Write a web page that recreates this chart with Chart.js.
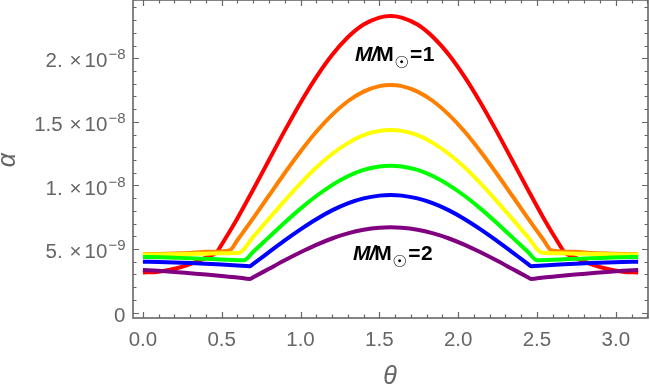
<!DOCTYPE html>
<html><head><meta charset="utf-8">
<script src="https://cdn.jsdelivr.net/npm/chart.js@4.4.1/dist/chart.umd.min.js"></script>
<style>html,body{margin:0;padding:0;background:#fff;}#wrap{width:650px;height:390px;position:relative;}</style>
</head><body><div id="wrap"><canvas id="c" width="650" height="390"></canvas></div>
<script>
// θ samples (rad) and α values (units of 1e-9)
const thetaRed    = [0,0.1,0.2,0.3,0.4,0.47,0.5,0.6,0.7,0.8,0.9,1.0,1.1,1.2,1.3,1.4,1.5,1.571,1.642,1.742,1.842,1.942,2.042,2.142,2.242,2.342,2.442,2.542,2.642,2.672,2.742,2.842,2.942,3.042,3.142];
const alphaRed    = [3.15,3.22,3.45,3.82,4.33,4.78,5.36,7.43,9.68,12.0,14.31,16.51,18.52,20.26,21.65,22.65,23.2,23.32,23.2,22.65,21.65,20.26,18.52,16.51,14.31,12.0,9.68,7.43,5.36,4.78,4.33,3.82,3.45,3.22,3.15];
const thetaOrange = [0,0.1,0.2,0.3,0.4,0.55,0.6,0.7,0.8,0.9,1.0,1.1,1.2,1.3,1.4,1.5,1.571,1.642,1.742,1.842,1.942,2.042,2.142,2.242,2.342,2.442,2.542,2.592,2.742,2.842,2.942,3.042,3.142];
const alphaOrange = [4.6,4.62,4.65,4.7,4.78,4.89,5.71,7.43,9.21,10.98,12.67,14.22,15.55,16.62,17.38,17.81,17.9,17.81,17.38,16.62,15.55,14.22,12.67,10.98,9.21,7.43,5.71,4.89,4.78,4.7,4.65,4.62,4.6];
const thetaYellow = [0,0.1,0.2,0.3,0.4,0.5,0.61,0.7,0.8,0.9,1.0,1.1,1.2,1.3,1.4,1.5,1.571,1.642,1.742,1.842,1.942,2.042,2.142,2.242,2.342,2.442,2.532,2.642,2.742,2.842,2.942,3.042,3.142];
const alphaYellow = [4.58,4.58,4.6,4.62,4.64,4.67,4.71,5.96,7.39,8.81,10.17,11.41,12.47,13.33,13.95,14.29,14.36,14.29,13.95,13.33,12.47,11.41,10.17,8.81,7.39,5.96,4.71,4.67,4.64,4.62,4.6,4.58,4.58];
const thetaGreen  = [0,0.1,0.2,0.3,0.4,0.5,0.64,0.7,0.8,0.9,1.0,1.1,1.2,1.3,1.4,1.5,1.571,1.642,1.742,1.842,1.942,2.042,2.142,2.242,2.342,2.442,2.502,2.642,2.742,2.842,2.942,3.042,3.142];
const alphaGreen  = [4.38,4.36,4.32,4.28,4.23,4.18,4.12,4.79,5.94,7.09,8.18,9.17,10.03,10.72,11.22,11.49,11.55,11.49,11.22,10.72,10.03,9.17,8.18,7.09,5.94,4.79,4.12,4.18,4.23,4.28,4.32,4.36,4.38];
const thetaBlue   = [0,0.1,0.2,0.3,0.4,0.5,0.6,0.679,0.7,0.8,0.9,1.0,1.1,1.2,1.3,1.4,1.5,1.571,1.642,1.742,1.842,1.942,2.042,2.142,2.242,2.342,2.442,2.463,2.542,2.642,2.742,2.842,2.942,3.042,3.142];
const alphaBlue   = [4.01,3.99,3.95,3.9,3.84,3.78,3.71,3.65,3.84,4.76,5.68,6.55,7.35,8.04,8.59,8.98,9.2,9.25,9.2,8.98,8.59,8.04,7.35,6.55,5.68,4.76,3.84,3.65,3.71,3.78,3.84,3.9,3.95,3.99,4.01];
const thetaPurple = [0,0.1,0.2,0.3,0.4,0.5,0.6,0.68,0.7,0.8,0.9,1.0,1.1,1.2,1.3,1.4,1.5,1.571,1.642,1.742,1.842,1.942,2.042,2.142,2.242,2.342,2.442,2.462,2.542,2.642,2.742,2.842,2.942,3.042,3.142];
const alphaPurple = [3.36,3.29,3.2,3.1,3.0,2.89,2.77,2.65,2.78,3.45,4.12,4.75,5.33,5.83,6.23,6.52,6.68,6.71,6.68,6.52,6.23,5.83,5.33,4.75,4.12,3.45,2.78,2.65,2.77,2.89,3.0,3.1,3.2,3.29,3.36];

const xMajorTicks = [0, 0.5, 1.0, 1.5, 2.0, 2.5, 3.0];
const xTickLabels = ["0.0","0.5","1.0","1.5","2.0","2.5","3.0"];
const yMajorTicks = [0, 5, 10, 15, 20];           // units of 1e-9
const yTickMantissas = ["0","5.","1.","1.5","2."];
const yTickExponents = ["","\u22129","\u22128","\u22128","\u22128"];
const xAxisTitle = "\u03b8";
const yAxisTitle = "\u03b1";
const curveLabelTop = ["M","/","M","\u2609","=","1"];
const curveLabelBottom = ["M","/","M","\u2609","=","2"];

const GRAY = '#666666';
const SANS = '"Liberation Sans", Arial, sans-serif';
const TICKFONT = '20.5px ' + SANS;

function pts(t, a){ return t.map((v,i)=>({x:v, y:a[i]})); }
function ds(label, t, a, color, order){
  return {label, data: pts(t,a), borderColor: color, backgroundColor: color, borderWidth: 4,
          pointRadius: 0, cubicInterpolationMode: 'monotone', fill: false, order,
          borderJoinStyle:'round', borderCapStyle:'butt'};
}

function drawMassLabel(ctx, parts, xLeft, base){
  ctx.fillStyle = '#000';
  ctx.textAlign = 'left'; ctx.textBaseline = 'alphabetic';
  let x = xLeft;
  ctx.font = 'italic bold 21px ' + SANS; ctx.fillText(parts[0], x, base); x += ctx.measureText(parts[0]).width - 1;
  ctx.font = 'italic bold 21px ' + SANS; ctx.fillText(parts[1], x, base); x += ctx.measureText(parts[1]).width - 1;
  ctx.font = 'bold 21px ' + SANS; ctx.fillText(parts[2], x, base); x += ctx.measureText(parts[2]).width + 0.5;
  ctx.font = 'bold 16.5px "DejaVu Sans", sans-serif'; ctx.fillText(parts[3], x, base + 7.5); x += ctx.measureText(parts[3]).width + 1;
  ctx.font = 'bold 21px ' + SANS; ctx.fillText(parts[4], x, base); x += ctx.measureText(parts[4]).width + 0.5;
  ctx.fillText(parts[5], x, base);
}

const framePlugin = {
  id: 'mmaFrame',
  afterDatasetsDraw(chart){
    const {ctx, chartArea:a, scales:{x, y}} = chart;
    ctx.save();
    ctx.strokeStyle = GRAY; ctx.lineWidth = 1.6;
    ctx.strokeRect(a.left, a.top, a.right - a.left, a.bottom - a.top);
    ctx.lineWidth = 1.2;
    ctx.beginPath();
    for (let k = 0; k <= 32; k++){
      const v = k / 10; if (v > x.max) break;
      const px = Math.round(x.getPixelForValue(v)) + 0.5;
      const len = (k % 5 === 0) ? 6 : 3.5;
      ctx.moveTo(px, a.bottom); ctx.lineTo(px, a.bottom - len);
      ctx.moveTo(px, a.top); ctx.lineTo(px, a.top + len);
    }
    for (let k = 0; k <= 24; k++){
      const py = Math.round(y.getPixelForValue(k)) + 0.5;
      const len = (k % 5 === 0) ? 6 : 3.5;
      ctx.moveTo(a.left, py); ctx.lineTo(a.left + len, py);
      ctx.moveTo(a.right, py); ctx.lineTo(a.right - len, py);
    }
    ctx.stroke();

    // x tick labels
    ctx.fillStyle = GRAY; ctx.textBaseline = 'alphabetic';
    ctx.font = TICKFONT; ctx.textAlign = 'center';
    xMajorTicks.forEach((v,i)=>{ ctx.fillText(xTickLabels[i], x.getPixelForValue(v), 346); });

    // y tick labels (scientific form)
    const xr = 125.5;
    yMajorTicks.forEach((v,i)=>{
      const base = y.getPixelForValue(v) + 9.2;
      const mant = yTickMantissas[i], ex = yTickExponents[i];
      ctx.textAlign = 'left';
      if (!ex){ ctx.font = TICKFONT; ctx.fillText(mant, xr - ctx.measureText(mant).width, base); return; }
      let cx = xr;
      ctx.font = '15px ' + SANS; const we = ctx.measureText(ex).width; cx -= we; ctx.fillText(ex, cx, base - 8);
      ctx.font = TICKFONT;
      const w10 = ctx.measureText('10').width; cx -= w10 + 1; ctx.fillText('10', cx, base);
      const wx = ctx.measureText('\u00d7').width; cx -= wx + 3; ctx.fillText('\u00d7', cx, base);
      const wm = ctx.measureText(mant).width; cx -= wm + 7; ctx.fillText(mant, cx, base);
    });

    // axis titles
    ctx.font = 'italic 25px ' + SANS; ctx.textAlign = 'center'; ctx.textBaseline = 'middle';
    ctx.fillText(xAxisTitle, (a.left + a.right) / 2 - 0.5, 377);
    ctx.save(); ctx.translate(8, 160); ctx.rotate(-Math.PI/2); ctx.fillText(yAxisTitle, 0, 0); ctx.restore();

    // curve annotations
    drawMassLabel(ctx, curveLabelTop, x.getPixelForValue(1.345), y.getPixelForValue(19.8));
    drawMassLabel(ctx, curveLabelBottom, x.getPixelForValue(1.333), y.getPixelForValue(4.15));
    ctx.restore();
  }
};

new Chart(document.getElementById('c'), {
  type: 'line',
  data: { datasets: [
    ds('M/M\u2609=1', thetaRed, alphaRed, '#ff0000', 6),
    ds('M/M\u2609=1.2', thetaOrange, alphaOrange, '#ff8000', 5),
    ds('M/M\u2609=1.4', thetaYellow, alphaYellow, '#ffff00', 4),
    ds('M/M\u2609=1.6', thetaGreen, alphaGreen, '#00ff00', 3),
    ds('M/M\u2609=1.8', thetaBlue, alphaBlue, '#0000ff', 2),
    ds('M/M\u2609=2', thetaPurple, alphaPurple, '#800080', 1)
  ]},
  options: {
    responsive: false, animation: false, devicePixelRatio: 1,
    layout: { padding: { left: 0, right: 2, top: 0, bottom: 0 } },
    plugins: { legend: { display: false }, tooltip: { enabled: false } },
    scales: {
      x: { type: 'linear', min: -0.0628, max: 3.2044,
           ticks: { display: false }, grid: { display: false }, border: { display: false },
           afterFit(s){ s.height = 72; } },
      y: { type: 'linear', min: -0.42, max: 24.58,
           ticks: { display: false }, grid: { display: false }, border: { display: false },
           afterFit(s){ s.width = 133; } }
    }
  },
  plugins: [framePlugin]
});
</script>
</body></html>
